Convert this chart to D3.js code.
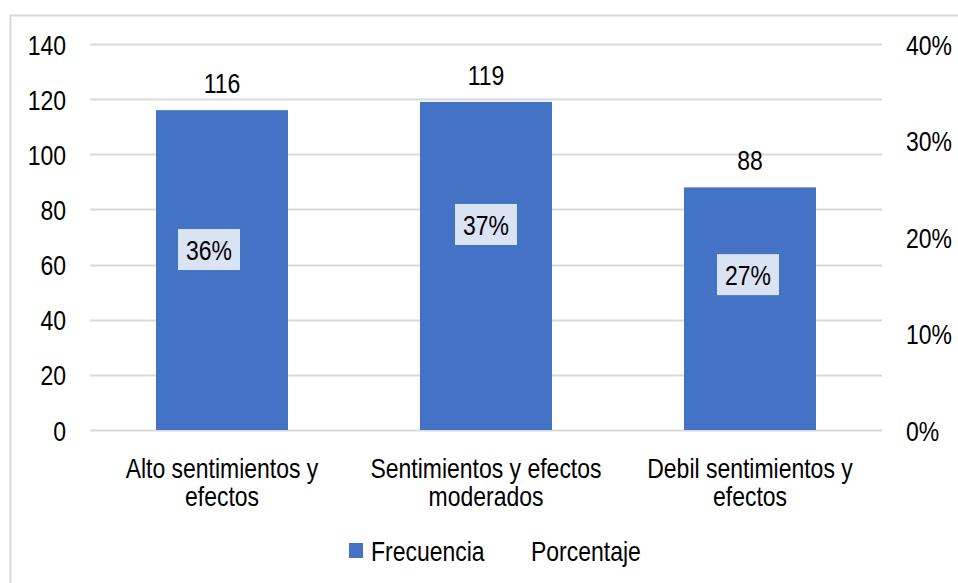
<!DOCTYPE html>
<html>
<head>
<meta charset="utf-8">
<script src="https://cdn.jsdelivr.net/npm/d3@7"></script>
<style>
  body { margin: 0; background: #fff; }
  text { font-family: "Liberation Sans", Arial, sans-serif; fill: #000; }
</style>
</head>
<body>
<div id="graph"></div>
<script>
// data
var categories = [["Alto sentimientos y", "efectos"], ["Sentimientos y efectos", "moderados"], ["Debil sentimientos y", "efectos"]];
var frecuencia = [116, 119, 88];
var porcentaje = [0.36, 0.37, 0.27];
var leftTicks = [0, 20, 40, 60, 80, 100, 120, 140];
var rightTicks = [0, 0.1, 0.2, 0.3, 0.4];

var width = 958, height = 583;
var fs = 28;
var squeeze = 0.82; // no narrow font available, so squash the glyphs

var svg = d3.select("#graph")
  .append("svg")
  .attr("width", width)
  .attr("height", height);

// chart frame
svg.append("rect")
  .attr("x", 10.5).attr("y", 15.5)
  .attr("width", 980).attr("height", 600)
  .attr("fill", "none")
  .attr("stroke", "#d9d9d9")
  .attr("stroke-width", 2);

var x = d3.scaleBand()
  .domain(d3.range(categories.length))
  .range([90, 882])
  .paddingInner(0.5)
  .paddingOuter(0.25);

var y = d3.scaleLinear().domain([0, 140]).range([430, 44]);
var yR = d3.scaleLinear().domain([0, 0.4]).range([430, 44]);

// gridlines
svg.selectAll("line.grid")
  .data(leftTicks)
  .enter().append("line")
  .attr("class", "grid")
  .attr("x1", 90).attr("x2", 882)
  .attr("y1", d => Math.round(y(d)) + 0.5)
  .attr("y2", d => Math.round(y(d)) + 0.5)
  .attr("stroke", "#d9d9d9")
  .attr("stroke-width", 2);

// left axis
var leftAxis = svg.append("g")
  .attr("transform", "translate(66,0)")
  .call(d3.axisLeft(y).tickValues(leftTicks).tickSize(0).tickPadding(0));
leftAxis.select(".domain").remove();
leftAxis.selectAll("text")
  .attr("font-size", fs)
  .attr("font-family", null)
  .attr("dy", "0.36em");

// right axis
var rightAxis = svg.append("g")
  .attr("transform", "translate(906,0)")
  .call(d3.axisRight(yR).tickValues(rightTicks).tickSize(0).tickPadding(0).tickFormat(d3.format(".0%")));
rightAxis.select(".domain").remove();
rightAxis.selectAll("text")
  .attr("font-size", fs)
  .attr("font-family", null)
  .attr("dy", "0.36em");

// bars
svg.selectAll("rect.bar")
  .data(frecuencia)
  .enter().append("rect")
  .attr("class", "bar")
  .attr("x", (d, i) => x(i))
  .attr("width", x.bandwidth())
  .attr("y", d => y(d))
  .attr("height", d => y(0) - y(d))
  .attr("fill", "#4472c4");

// value labels
svg.selectAll("text.val")
  .data(frecuencia)
  .enter().append("text")
  .attr("class", "val")
  .attr("x", (d, i) => x(i) + x.bandwidth() / 2)
  .attr("y", d => y(d) - 17)
  .attr("text-anchor", "middle")
  .attr("font-size", fs)
  .text(d => d);

// percentage labels (nudged like in the original)
var nudge = [[-13, 0.187], [0, 0.213], [-2, 0.161]];
var pl = svg.selectAll("g.pct")
  .data(porcentaje)
  .enter().append("g")
  .attr("class", "pct")
  .attr("transform", (d, i) => "translate(" + (x(i) + x.bandwidth() / 2 + nudge[i][0]) + "," + yR(nudge[i][1]) + ")");
pl.append("rect")
  .attr("x", -31).attr("y", -20.5)
  .attr("width", 62).attr("height", 41)
  .attr("fill", "#dae3f3");
pl.append("text")
  .attr("text-anchor", "middle")
  .attr("dy", "0.36em")
  .attr("font-size", fs)
  .text(d => d3.format(".0%")(d));

// category labels
var cl = svg.selectAll("text.cat")
  .data(categories)
  .enter().append("text")
  .attr("class", "cat")
  .attr("text-anchor", "middle")
  .attr("font-size", fs);
cl.selectAll("tspan")
  .data((d, i) => d.map(s => [s, i]))
  .enter().append("tspan")
  .attr("x", d => x(d[1]) + x.bandwidth() / 2)
  .attr("y", (d, j) => 478 + j * 28)
  .text(d => d[0]);

// legend
var legend = svg.append("g");
legend.append("rect")
  .attr("x", 349).attr("y", 543)
  .attr("width", 14).attr("height", 15)
  .attr("fill", "#4472c4");
legend.append("text")
  .attr("x", 371).attr("y", 561)
  .attr("font-size", fs)
  .text("Frecuencia");
legend.append("text")
  .attr("x", 531).attr("y", 561)
  .attr("font-size", fs)
  .text("Porcentaje");

// squash every text run horizontally
svg.selectAll("text").each(function() {
  var t = d3.select(this);
  var runs = t.selectAll("tspan");
  if (runs.empty()) runs = t;
  runs.each(function() {
    var len = this.getComputedTextLength();
    d3.select(this)
      .attr("textLength", len * squeeze)
      .attr("lengthAdjust", "spacingAndGlyphs");
  });
});
</script>
</body>
</html>
